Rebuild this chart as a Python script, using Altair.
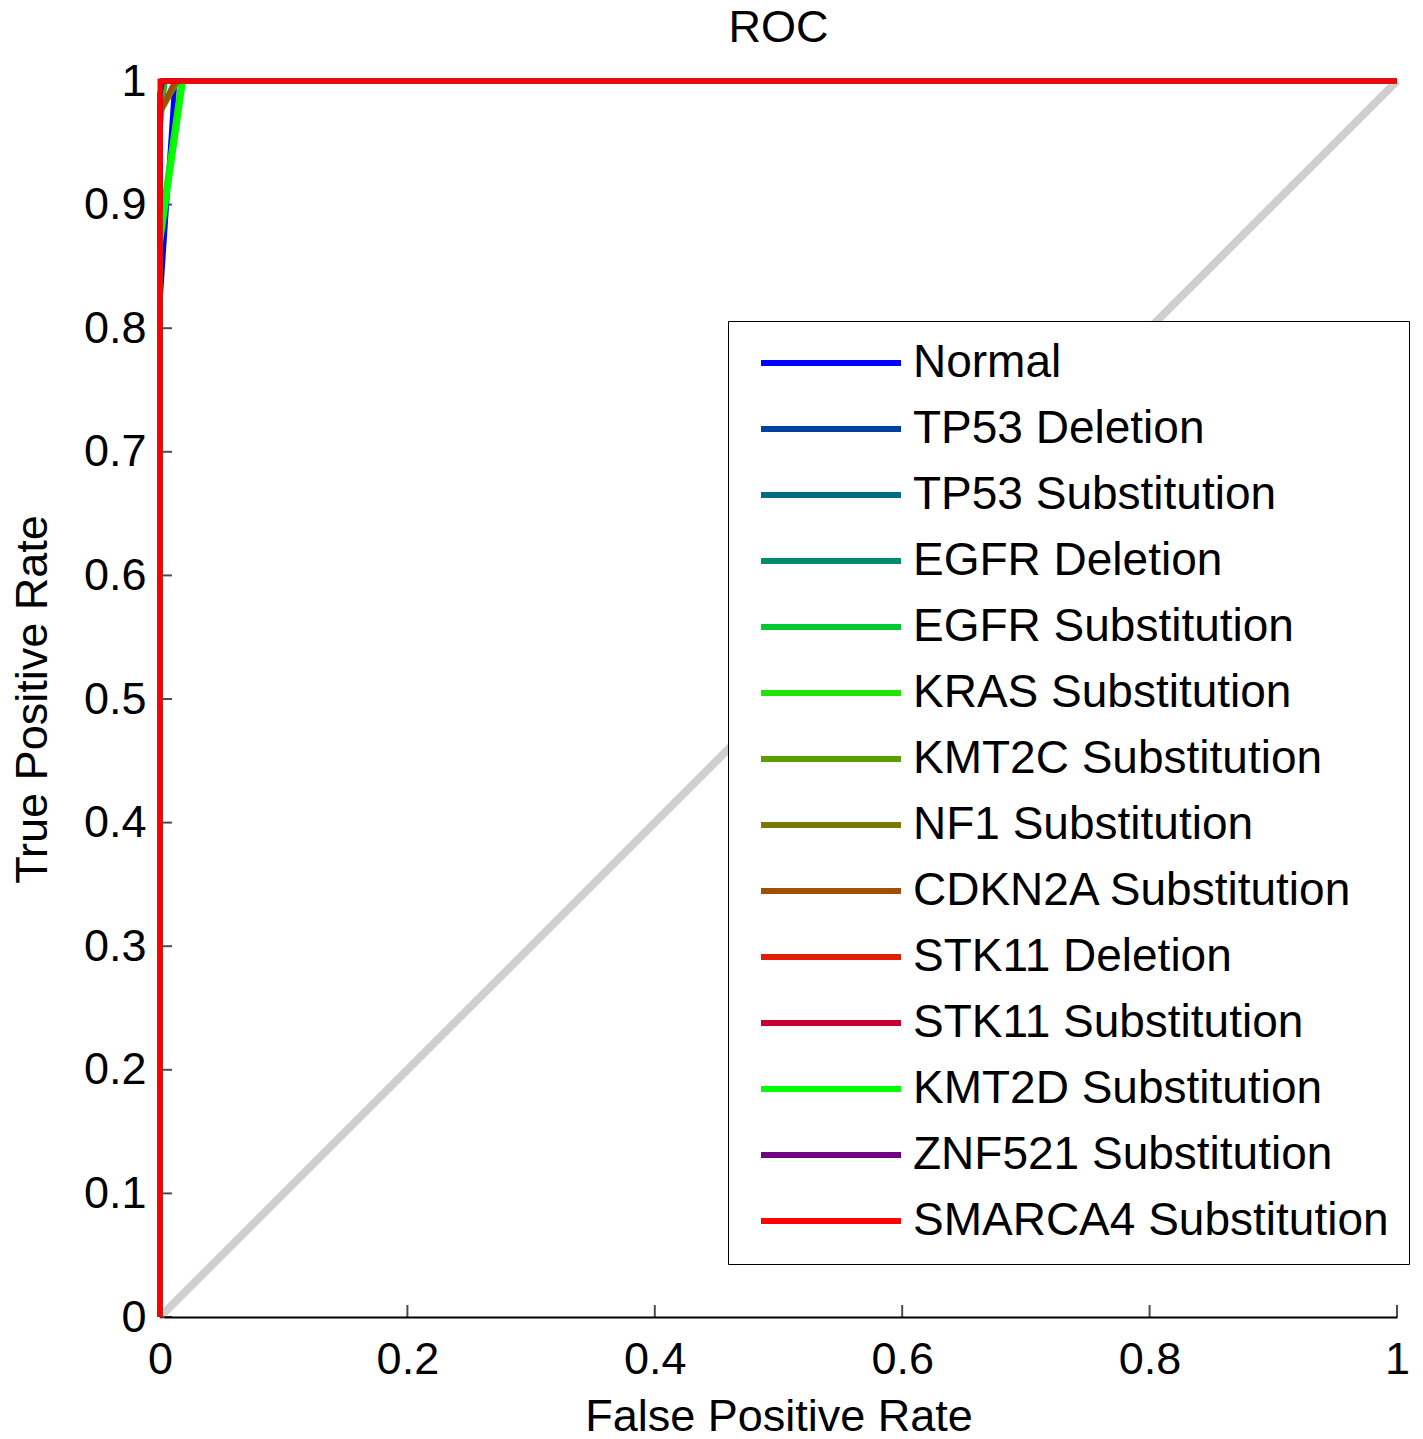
import altair as alt
import pandas as pd

series = [
    "Normal", "TP53 Deletion", "TP53 Substitution", "EGFR Deletion",
    "EGFR Substitution", "KRAS Substitution", "KMT2C Substitution",
    "NF1 Substitution", "CDKN2A Substitution", "STK11 Deletion",
    "STK11 Substitution", "KMT2D Substitution", "ZNF521 Substitution",
    "SMARCA4 Substitution",
]
colors = [
    "#0000FF", "#0040A0", "#006C80", "#008C6C", "#00C832", "#1EE600",
    "#5A9E00", "#7A7A00", "#A05000", "#E01E00", "#C80032", "#00FF00",
    "#720082", "#FF0000",
]
fpr = {
    "Normal": [0, 0, 0.012, 1],
    "TP53 Deletion": [0, 0, 0.004, 1],
    "TP53 Substitution": [0, 0, 0.003, 1],
    "EGFR Deletion": [0, 0, 0.003, 1],
    "EGFR Substitution": [0, 0, 0.004, 1],
    "KRAS Substitution": [0, 0, 0.017, 1],
    "KMT2C Substitution": [0, 0, 0.003, 1],
    "NF1 Substitution": [0, 0, 0.0145, 1],
    "CDKN2A Substitution": [0, 0, 0.012, 1],
    "STK11 Deletion": [0, 0, 0.002, 1],
    "STK11 Substitution": [0, 0, 0.002, 1],
    "KMT2D Substitution": [0, 0, 0.019, 1],
    "ZNF521 Substitution": [0, 0, 0.002, 1],
    "SMARCA4 Substitution": [0, 0, 0.0, 1],
}
tpr = {
    "Normal": [0, 0.82, 1, 1],
    "TP53 Deletion": [0, 0.97, 1, 1],
    "TP53 Substitution": [0, 0.98, 1, 1],
    "EGFR Deletion": [0, 0.98, 1, 1],
    "EGFR Substitution": [0, 0.96, 1, 1],
    "KRAS Substitution": [0, 0.88, 1, 1],
    "KMT2C Substitution": [0, 0.98, 1, 1],
    "NF1 Substitution": [0, 0.974, 1, 1],
    "CDKN2A Substitution": [0, 0.975, 1, 1],
    "STK11 Deletion": [0, 0.99, 1, 1],
    "STK11 Substitution": [0, 0.99, 1, 1],
    "KMT2D Substitution": [0, 0.866, 1, 1],
    "ZNF521 Substitution": [0, 0.99, 1, 1],
    "SMARCA4 Substitution": [0, 1, 1, 1],
}
diag_x = [0, 1]
diag_y = [0, 1]
x_ticks = [0, 0.2, 0.4, 0.6, 0.8, 1]
y_ticks = [0, 0.1, 0.2, 0.3, 0.4, 0.5, 0.6, 0.7, 0.8, 0.9, 1]

rows = []
for si, s in enumerate(series):
    for pi, (a, b) in enumerate(zip(fpr[s], tpr[s])):
        rows.append({"series": s, "sidx": si, "pidx": pi, "fpr": a, "tpr": b})
df = pd.DataFrame(rows)
diag = pd.DataFrame({"fpr": diag_x, "tpr": diag_y})
xt = pd.DataFrame({"v": x_ticks})
yt = pd.DataFrame({"v": y_ticks})

FONT = "Liberation Sans"
xscale = alt.Scale(domain=[0, 1], nice=False, zero=False)
yscale = alt.Scale(domain=[0, 1], nice=False, zero=False)

xaxis = alt.Axis(values=x_ticks, format="~g", title="False Positive Rate", grid=False,
                 ticks=False, domainColor="black", domainWidth=2, labelFlush=False,
                 labelFontSize=45, labelPadding=20, labelColor="black", labelFont=FONT,
                 titleFontSize=45, titleFont=FONT, titleFontWeight="normal",
                 titleColor="black", titlePadding=12)
yaxis = alt.Axis(values=y_ticks, format="~g", title="True Positive Rate", grid=False,
                 ticks=False, domainColor="black", domainWidth=2, labelFlush=False,
                 labelFontSize=45, labelPadding=14, labelColor="black", labelFont=FONT,
                 titleFontSize=45, titleFont=FONT, titleFontWeight="normal",
                 titleColor="black", titlePadding=28)

diag_layer = alt.Chart(diag).mark_line(color="#CFCFCF", strokeWidth=8).encode(
    x=alt.X("fpr:Q", scale=xscale, axis=xaxis),
    y=alt.Y("tpr:Q", scale=yscale, axis=yaxis),
)

lines = alt.Chart(df).mark_line(strokeWidth=5, clip=False).encode(
    x=alt.X("fpr:Q", scale=xscale),
    y=alt.Y("tpr:Q", scale=yscale),
    color=alt.Color(
        "series:N",
        sort=series,
        scale=alt.Scale(domain=series, range=colors),
        legend=alt.Legend(
            title=None, orient="none", legendX=568, legendY=240,
            symbolType="stroke", symbolSize=19600, symbolStrokeWidth=6,
            clipHeight=44, rowPadding=20, padding=20, symbolOffset=10,
            labelOffset=9, labelFontSize=46, labelFont=FONT, labelColor="black",
            labelLimit=1000,
            fillColor="white", strokeColor="black",
        ),
    ),
    order=alt.Order("pidx:Q"),
    detail="sidx:N",
)

xticks_layer = alt.Chart(xt).mark_tick(color="black", size=12, thickness=2, yOffset=-6).encode(
    x=alt.X("v:Q", scale=xscale), y=alt.datum(0)
)
yticks_layer = alt.Chart(yt).mark_tick(color="black", size=12, thickness=2, xOffset=6, orient="horizontal").encode(
    y=alt.Y("v:Q", scale=yscale), x=alt.datum(0)
)

chart = alt.layer(diag_layer, xticks_layer, yticks_layer, lines).properties(
    width=1237, height=1236,
    title=alt.TitleParams("ROC", fontSize=45, font=FONT, fontWeight="normal",
                          color="black", anchor="middle", offset=8),
    padding={"left": 160, "top": 81, "right": 26, "bottom": 122},
    autosize=alt.AutoSizeParams(type="none"),
    background="white",
).configure_view(stroke=None)

chart.save("out.html", embed_options={"renderer": "svg", "actions": False})
